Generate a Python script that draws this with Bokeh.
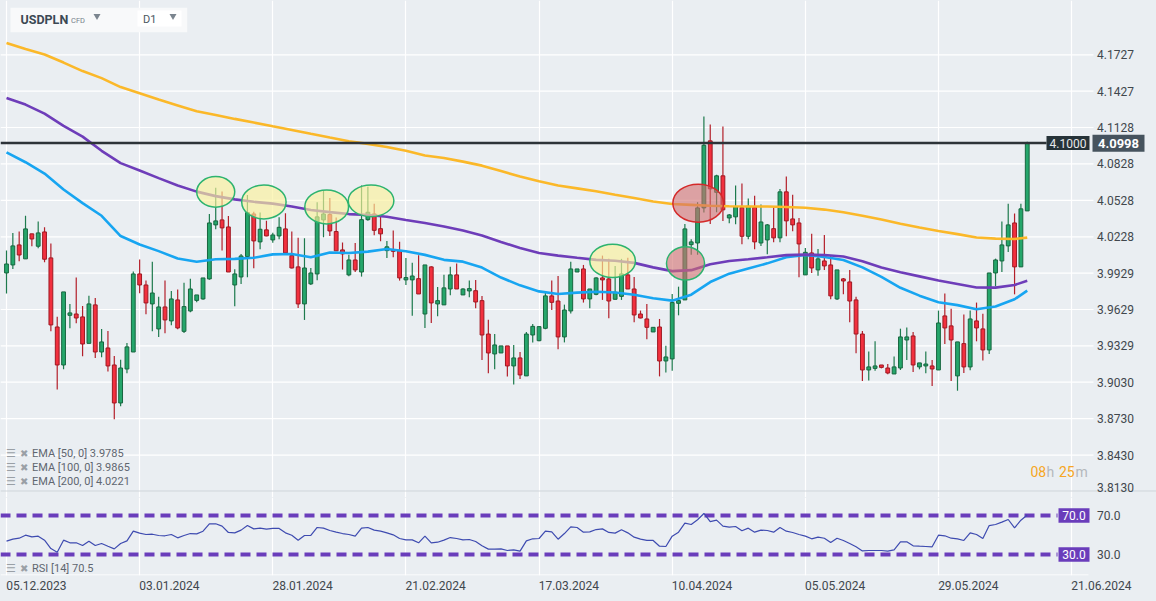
from bokeh.plotting import figure
from bokeh.layouts import column
from bokeh.models import (Range1d, LinearAxis, FixedTicker, Grid,
                          ColumnDataSource, GlobalInlineStyleSheet)
from bokeh.core.properties import value
from bokeh.embed import file_html
from bokeh.resources import INLINE

# ---------------- data ----------------
SYMBOL = "USDPLN"
INSTRUMENT = "CFD"
TIMEFRAME = "D1"

OPEN = [3.9930, 3.9996, 4.0161, 4.0046, 4.0252, 4.0150, 4.0268, 4.0054, 3.9485, 3.9172,
        3.9581, 3.9592, 3.9568, 3.9350, 3.9667, 3.9279, 3.9312, 3.9172, 3.8859, 3.9139,
        3.9279, 3.9922, 3.9831, 3.9675, 3.9469, 3.9650, 3.9535, 3.9708, 3.9449, 3.9617,
        3.9704, 3.9716, 3.9881, 4.0326, 4.0367, 4.0309, 3.9831, 3.9897, 4.0065, 4.0416,
        4.0186, 4.0285, 4.0202, 4.0235, 4.0293, 4.0073, 3.9980, 3.9675, 3.9840, 3.9922,
        4.0367, 4.0411, 4.0271, 4.0120, 3.9914, 4.0037, 3.9938, 4.0369, 4.0416, 4.0295,
        4.0114, 4.0120, 4.0114, 3.9873, 3.9873, 3.9883, 3.9592, 3.9980, 3.9675, 3.9667,
        3.9798, 3.9914, 3.9749, 3.9782, 3.9784, 3.9702, 3.9427, 3.9263, 3.9271, 3.9329,
        3.9164, 3.9230, 3.9082, 3.9419, 3.9372, 3.9474, 3.9741, 3.9699, 3.9403, 3.9617,
        3.9938, 3.9963, 3.9716, 3.9754, 3.9889, 3.9881, 3.9713, 3.9737, 3.9914, 3.9798,
        3.9592, 3.9551, 3.9444, 3.9485, 3.9205, 3.9222, 3.9680, 3.9708, 4.0163, 4.0177,
        4.0466, 4.1018, 4.0594, 4.0730, 4.0383, 4.0392, 4.0468, 4.0232, 4.0471, 4.0177,
        4.0202, 4.0295, 4.0219, 4.0598, 4.0375, 4.0342, 3.9914, 4.0095, 3.9955, 4.0029,
        3.9996, 3.9716, 3.9881, 3.9856, 3.9708, 3.9427, 3.9131, 3.9144, 3.9172, 3.9147,
        3.9098, 3.9147, 3.9378, 3.9411, 3.9156, 3.9164, 3.9164, 3.9131, 3.9576, 3.9494,
        3.9082, 3.9348, 3.9156, 3.9535, 3.9469, 3.9296, 3.9930, 4.0029, 4.0153, 4.0342,
        3.9980, 4.0441]
HIGH = [4.0114, 4.0260, 4.0271, 4.0402, 4.0252, 4.0353, 4.0306, 4.0172, 3.9570, 3.9774,
        3.9675, 3.9892, 3.9658, 3.9743, 3.9724, 3.9469, 3.9452, 3.9246, 3.9216, 3.9353,
        3.9941, 4.0040, 3.9867, 4.0023, 3.9733, 3.9867, 3.9782, 3.9793, 3.9850, 3.9883,
        3.9749, 3.9889, 4.0416, 4.0631, 4.0600, 4.0400, 3.9960, 4.0087, 4.0573, 4.0435,
        4.0427, 4.0361, 4.0262, 4.0388, 4.0421, 4.0271, 4.0219, 4.0215, 3.9971, 4.0512,
        4.0608, 4.0548, 4.0386, 4.0180, 4.0081, 4.0177, 4.0650, 4.0641, 4.0501, 4.0397,
        4.0194, 4.0279, 4.0188, 4.0054, 4.0015, 4.0075, 3.9996, 3.9985, 3.9815, 3.9916,
        3.9982, 4.0007, 3.9803, 3.9867, 3.9873, 3.9741, 3.9545, 3.9427, 3.9329, 3.9329,
        3.9337, 3.9279, 3.9444, 3.9510, 3.9488, 3.9771, 3.9867, 3.9905, 3.9669, 4.0023,
        3.9963, 3.9996, 3.9798, 3.9894, 4.0073, 4.0046, 3.9988, 4.0046, 4.0056, 3.9897,
        3.9620, 3.9675, 3.9482, 3.9551, 3.9331, 3.9757, 3.9817, 4.0334, 4.0207, 4.0512,
        4.1218, 4.1152, 4.0738, 4.1136, 4.0416, 4.0650, 4.0666, 4.0543, 4.0567, 4.0493,
        4.0334, 4.0471, 4.0622, 4.0724, 4.0575, 4.0383, 4.0136, 4.0252, 4.0128, 4.0243,
        4.0067, 3.9955, 3.9889, 3.9955, 3.9735, 3.9452, 3.9282, 3.9367, 3.9172, 3.9180,
        3.9241, 3.9471, 3.9480, 3.9444, 3.9189, 3.9282, 3.9213, 3.9620, 3.9760, 3.9636,
        3.9362, 3.9587, 3.9620, 3.9686, 3.9595, 3.9930, 4.0048, 4.0353, 4.0501, 4.0419,
        4.0501, 4.1010]
LOW = [3.9760, 3.9963, 4.0026, 4.0046, 4.0150, 4.0133, 4.0018, 3.9449, 3.8971, 3.9136,
       3.9474, 3.9515, 3.9243, 3.9350, 3.9230, 3.9235, 3.9119, 3.8724, 3.8831, 3.9103,
       3.9279, 3.9762, 3.9589, 3.9449, 3.9403, 3.9433, 3.9499, 3.9466, 3.9436, 3.9606,
       3.9688, 3.9710, 3.9875, 4.0290, 4.0114, 3.9938, 3.9655, 3.9840, 3.9894, 3.9968,
       4.0125, 4.0232, 4.0178, 4.0207, 4.0089, 3.9966, 3.9642, 3.9543, 3.9831, 3.9869,
       4.0224, 4.0235, 4.0112, 3.9958, 3.9902, 3.9938, 3.9900, 4.0361, 4.0240, 4.0191,
       4.0054, 4.0059, 3.9867, 3.9831, 3.9578, 3.9757, 3.9477, 3.9518, 3.9573, 3.9667,
       3.9746, 3.9798, 3.9749, 3.9729, 3.9639, 3.9213, 3.9103, 3.9136, 3.9271, 3.9078,
       3.9012, 3.9057, 3.9082, 3.9358, 3.9367, 3.9466, 3.9625, 3.9301, 3.9358, 3.9597,
       3.9938, 3.9686, 3.9639, 3.9746, 3.9708, 3.9556, 3.9713, 3.9708, 3.9798, 3.9523,
       3.9556, 3.9383, 3.9444, 3.9078, 3.9111, 3.9125, 3.9581, 3.9708, 4.0081, 4.0081,
       4.0427, 4.0334, 4.0430, 4.0359, 4.0339, 4.0331, 4.0166, 4.0207, 4.0125, 4.0153,
       4.0084, 4.0182, 4.0182, 4.0232, 4.0273, 3.9894, 3.9914, 3.9930, 3.9906, 3.9955,
       3.9713, 3.9708, 3.9754, 3.9523, 3.9268, 3.9040, 3.9045, 3.9125, 3.9144, 3.9095,
       3.9098, 3.9131, 3.9213, 3.9115, 3.9136, 3.9103, 3.8999, 3.9131, 3.9345, 3.9040,
       3.8960, 3.9106, 3.9128, 3.9367, 3.9208, 3.9263, 3.9820, 3.9938, 4.0103, 3.9754,
       3.9980, 4.0441]
CLOSE = [4.0004, 4.0153, 4.0078, 4.0293, 4.0210, 4.0260, 4.0043, 3.9502, 3.9172, 3.9774,
         3.9601, 3.9559, 3.9345, 3.9675, 3.9279, 3.9362, 3.9164, 3.8859, 3.9147, 3.9321,
         3.9922, 3.9831, 3.9683, 3.9765, 3.9650, 3.9543, 3.9716, 3.9477, 3.9653, 3.9798,
         3.9749, 3.9889, 4.0342, 4.0359, 4.0301, 3.9938, 3.9922, 4.0070, 4.0427, 4.0194,
         4.0290, 4.0235, 4.0243, 4.0306, 4.0095, 3.9971, 3.9675, 3.9971, 3.9930, 4.0392,
         4.0416, 4.0276, 4.0112, 4.0087, 4.0037, 3.9955, 4.0369, 4.0430, 4.0281, 4.0252,
         4.0145, 4.0108, 3.9889, 3.9892, 3.9905, 3.9757, 3.9996, 3.9683, 3.9702, 3.9807,
         3.9914, 3.9798, 3.9798, 3.9801, 3.9691, 3.9419, 3.9271, 3.9337, 3.9329, 3.9164,
         3.9230, 3.9090, 3.9427, 3.9490, 3.9488, 3.9741, 3.9688, 3.9403, 3.9625, 3.9963,
         3.9963, 3.9716, 3.9798, 3.9889, 3.9873, 3.9699, 3.9771, 3.9922, 3.9798, 3.9584,
         3.9559, 3.9482, 3.9482, 3.9205, 3.9238, 3.9686, 3.9702, 4.0293, 4.0186, 4.0466,
         4.0982, 4.0623, 4.0730, 4.0450, 4.0408, 4.0477, 4.0232, 4.0479, 4.0186, 4.0350,
         4.0326, 4.0219, 4.0598, 4.0359, 4.0326, 4.0169, 4.0100, 3.9971, 4.0046, 3.9988,
         3.9741, 3.9955, 3.9864, 3.9699, 3.9427, 3.9131, 3.9156, 3.9164, 3.9152, 3.9106,
         3.9156, 3.9403, 3.9403, 3.9172, 3.9189, 3.9180, 3.9139, 3.9518, 3.9477, 3.9378,
         3.9362, 3.9156, 3.9551, 3.9477, 3.9296, 3.9930, 4.0037, 4.0161, 4.0326, 3.9980,
         4.0458, 4.0998]

RSI = [43.7, 45.7, 46.7, 49.8, 48.1, 48.8, 44.7, 36.1, 32.4, 44.7,
       42.0, 42.0, 39.2, 43.7, 39.2, 41.3, 38.5, 35.8, 41.3, 44.0,
       53.9, 51.9, 50.5, 50.8, 49.5, 49.2, 50.5, 47.1, 49.5, 51.5,
       51.2, 53.9, 61.5, 61.5, 59.1, 52.6, 52.2, 55.0, 59.7, 56.3,
       57.0, 56.0, 56.7, 56.7, 52.2, 49.8, 44.7, 49.5, 49.5, 57.7,
       57.0, 54.6, 52.9, 51.5, 50.5, 48.8, 57.0, 57.7, 55.0, 53.9,
       52.2, 50.2, 46.4, 45.0, 45.0, 42.0, 48.8, 42.0, 42.6, 44.7,
       47.4, 46.4, 45.0, 45.4, 43.3, 38.9, 35.5, 35.5, 35.8, 34.1,
       34.8, 33.4, 44.0, 46.1, 46.4, 53.9, 53.2, 45.7, 51.5, 58.4,
       57.7, 52.9, 53.2, 55.6, 56.3, 52.6, 51.9, 55.3, 52.2, 47.8,
       45.7, 44.4, 44.4, 38.5, 38.2, 48.8, 52.9, 62.1, 60.8, 65.6,
       72.1, 63.8, 65.2, 59.1, 58.0, 58.7, 54.3, 57.0, 52.9, 55.0,
       54.6, 52.9, 57.7, 53.9, 52.6, 50.5, 48.8, 46.1, 47.8, 46.7,
       42.3, 46.7, 44.4, 41.3, 37.9, 33.7, 34.1, 34.1, 34.1, 33.4,
       34.8, 43.0, 43.0, 38.9, 38.5, 38.2, 37.9, 49.8, 49.2, 46.7,
       46.1, 44.4, 52.2, 50.5, 46.4, 59.7, 60.8, 63.2, 65.9, 57.3,
       65.2, 70.5]

EMA_IDX = [0, 3, 6, 9, 12, 15, 18, 21, 24, 27, 30, 33, 36, 39, 42, 45, 48, 51, 54, 57,
           60, 63, 66, 69, 72, 75, 78, 81, 84, 87, 90, 93, 96, 99, 102, 105, 108, 111,
           114, 117, 120, 123, 126, 129, 132, 135, 138, 141, 144, 147, 150, 153, 156,
           159, 161]
EMA50 = [4.0924, 4.0842, 4.0749, 4.0617, 4.0505, 4.0401, 4.0234, 4.0164, 4.0110, 4.0049,
         4.0023, 4.0043, 4.0046, 4.0055, 4.0083, 4.0086, 4.0059, 4.0098, 4.0094, 4.0106,
         4.0128, 4.0109, 4.0079, 4.0038, 4.0023, 3.9974, 3.9892, 3.9828, 3.9778, 3.9757,
         3.9768, 3.9775, 3.9769, 3.9751, 3.9722, 3.9702, 3.9751, 3.9855, 3.9924, 3.9967,
         4.0009, 4.0059, 4.0078, 4.0061, 4.0036, 3.9976, 3.9897, 3.9808, 3.9743, 3.9689,
         3.9665, 3.9631, 3.9653, 3.9713, 3.9785]
EMA100 = [4.1372, 4.1317, 4.1243, 4.1142, 4.1053, 4.0936, 4.0835, 4.0774, 4.0711, 4.0651,
          4.0600, 4.0563, 4.0536, 4.0516, 4.0501, 4.0477, 4.0449, 4.0431, 4.0415, 4.0407,
          4.0393, 4.0366, 4.0341, 4.0313, 4.0279, 4.0238, 4.0185, 4.0135, 4.0094, 4.0073,
          4.0055, 4.0038, 4.0030, 4.0013, 3.9976, 3.9945, 3.9953, 4.0001, 4.0028, 4.0043,
          4.0059, 4.0077, 4.0081, 4.0078, 4.0066, 4.0026, 3.9975, 3.9936, 3.9902, 3.9868,
          3.9839, 3.9810, 3.9809, 3.9831, 3.9865]
EMA200 = [4.1825, 4.1774, 4.1729, 4.1663, 4.1593, 4.1535, 4.1461, 4.1410, 4.1358, 4.1310,
          4.1262, 4.1231, 4.1199, 4.1169, 4.1138, 4.1108, 4.1076, 4.1045, 4.1015, 4.0993,
          4.0968, 4.0937, 4.0897, 4.0877, 4.0847, 4.0814, 4.0769, 4.0724, 4.0685, 4.0650,
          4.0627, 4.0603, 4.0574, 4.0547, 4.0519, 4.0498, 4.0491, 4.0483, 4.0480, 4.0478,
          4.0477, 4.0473, 4.0467, 4.0452, 4.0430, 4.0402, 4.0371, 4.0336, 4.0304, 4.0276,
          4.0250, 4.0222, 4.0213, 4.0210, 4.0221]
EMA_NAMES = ["EMA [50, 0]", "EMA [100, 0]", "EMA [200, 0]"]
EMA_LAST = [3.9785, 3.9865, 4.0221]
RSI_NAME = "RSI [14]"
RSI_LAST = 70.5
RSI_LEVELS = [70.0, 30.0]

PRICE_LABELS = ["4.1727", "4.1427", "4.1128", "4.0828", "4.0528", "4.0228", "3.9929",
                "3.9629", "3.9329", "3.9030", "3.8730", "3.8430", "3.8130"]
DATE_LABELS = ["05.12.2023", "03.01.2024", "28.01.2024", "21.02.2024", "17.03.2024",
               "10.04.2024", "05.05.2024", "29.05.2024", "21.06.2024"]
DATE_POS = [0, 21, 42, 63, 84, 105, 126, 147, 168]   # candle index of each date gridline

LEVEL = 4.1000          # horizontal resistance line
LAST_PRICE = 4.0998
COUNTDOWN = ["08", "h", "25", "m"]

# highlighted zones: candle index, price, width (candles), height (price), kind
MARK_X = [33.0, 40.6, 50.5, 57.5, 95.6, 109.1, 107.1]
MARK_Y = [4.0598, 4.0515, 4.0474, 4.0524, 4.0029, 4.0505, 4.0009]
MARK_W = [6.0, 7.0, 6.9, 7.2, 7.2, 8.0, 6.0]
MARK_H = [0.0252, 0.0280, 0.0280, 0.0260, 0.0275, 0.0313, 0.0275]
MARK_KIND = ["y", "y", "y", "y", "y", "r", "g"]

# ---------------- styling / page geometry ----------------
BG = "#eaeef2"
FONT = "Roboto"
AXIS_TXT = "#41474d"
W = 1156
PANEL_EDGE = 491           # page y of the line between the two panels
MAIN_H = 497               # main canvas reaches a little below the panel line
RSI_H = 601 - MAIN_H - 1
RSI_BOTTOM = 575           # page y where the RSI panel ends
PLOT_RIGHT = 1093          # page x where the price area ends

CAND_X0, CAND_DX = 6.0, 6.34        # page x of first candle, candle spacing (px)
Y_TOP = 4.21743                     # price at page y = 0
PRICE_PER_PX = (4.21743 - 3.81298) / 491
RSI_70_Y, RSI_PER_PX = 515.0, 40.0 / 39.0


def px_x(x):
    return (x - CAND_X0) / CAND_DX


def px_y(y):
    return Y_TOP - y * PRICE_PER_PX


def rsi_y(y):
    return 70.0 - (y - RSI_70_Y) * RSI_PER_PX


x_range = Range1d(px_x(0), px_x(W))
XL, XR = px_x(0), px_x(PLOT_RIGHT)


def txt(fig, x, y, s, size, color, font=FONT, style="normal", align="left",
        baseline="middle"):
    fig.text(x=[x], y=[y], text=[s], text_font=value(font), text_font_size=size,
             text_font_style=style, text_color=color, text_align=align,
             text_baseline=baseline)


def strip_grids(fig):
    fig.center = [c for c in fig.center if not isinstance(c, Grid)]


# ================= main price panel =================
p = figure(width=W, height=MAIN_H, x_range=x_range,
           y_range=Range1d(px_y(MAIN_H), px_y(0)),
           output_backend="svg", toolbar_location=None,
           x_axis_location=None, y_axis_location=None,
           min_border_left=0, min_border_right=0, min_border_top=0, min_border_bottom=0,
           background_fill_color=BG, border_fill_color=BG, outline_line_color=None)
strip_grids(p)
p.add_layout(Grid(dimension=0, ticker=FixedTicker(ticks=DATE_POS),
                  grid_line_color="white", grid_line_width=1.2))

grid_prices = [float(s) for s in PRICE_LABELS[:-1]]
p.segment(x0=XL, x1=XR, y0=grid_prices, y1=grid_prices, line_color="white", line_width=1.2)
# panel separator
p.segment(x0=XL, x1=px_x(W), y0=px_y(PANEL_EDGE - 0.5), y1=px_y(PANEL_EDGE - 0.5),
          line_color="#cfd5da", line_width=1)

# price scale labels (the lowest one sits just above the panel edge)
p.text(x=px_x(1096.5), y=grid_prices, text=PRICE_LABELS[:-1], text_font=value(FONT),
       text_font_size="12px", text_color=AXIS_TXT, text_baseline="middle", text_align="left")
txt(p, px_x(1096.5), px_y(486.7), PRICE_LABELS[-1], "12px", AXIS_TXT)

# candles
n = len(OPEN)
xs = list(range(n))
up = [c >= o for o, c in zip(OPEN, CLOSE)]
src = ColumnDataSource(dict(
    x=xs, lo=LOW, hi=HIGH,
    top=[max(o, c) for o, c in zip(OPEN, CLOSE)],
    bot=[min(o, c) for o, c in zip(OPEN, CLOSE)],
    fill=["#25a66b" if u else "#f2303e" for u in up],
    edge=["#17663f" if u else "#9e1822" for u in up],
    wick=["#1d7a4d" if u else "#b31f2a" for u in up],
))
p.segment(x0="x", y0="lo", x1="x", y1="hi", line_color="wick", line_width=1.2, source=src)
p.vbar(x="x", width=0.6, top="top", bottom="bot", fill_color="fill", line_color="edge",
       line_width=1, source=src)

# EMAs
p.line(EMA_IDX, EMA50, line_color="#17a5f1", line_width=2.6)
p.line(EMA_IDX, EMA100, line_color="#6e3db9", line_width=2.6)
p.line(EMA_IDX, EMA200, line_color="#fbb829", line_width=2.6)

# highlighted zones
fills = {"y": "#fbf19a", "r": "#d26e6e", "g": "#d26e6e"}
alphas = {"y": 0.65, "r": 0.6, "g": 0.6}
edges = {"y": "#2db36f", "r": "#d42a2a", "g": "#2db36f"}
p.ellipse(x=MARK_X, y=MARK_Y, width=MARK_W, height=MARK_H,
          fill_color=[fills[k] for k in MARK_KIND], fill_alpha=[alphas[k] for k in MARK_KIND],
          line_color=[edges[k] for k in MARK_KIND], line_width=1.5)

# resistance level and price tags
p.segment(x0=XL, x1=px_x(1046), y0=LEVEL, y1=LEVEL, line_color="#2d3338", line_width=2.5)
p.rect(x=[px_x(1067.5)], y=[LEVEL], width=43, height=14, width_units="screen",
       height_units="screen", fill_color="#263238", line_color=None)
txt(p, px_x(1067.5), LEVEL, "%.4f" % LEVEL, "12px", "#e6e8ea", align="center")
p.rect(x=[px_x(1118)], y=[LAST_PRICE], width=52, height=17, width_units="screen",
       height_units="screen", fill_color="#46535e", line_color=None)
txt(p, px_x(1118), LAST_PRICE, "%.4f" % LAST_PRICE, "13px", "white", style="bold",
    align="center")

# header box
p.quad(left=[px_x(10)], right=[px_x(186.7)], top=[px_y(7.3)], bottom=[px_y(31.7)],
       fill_color="#f8f9fa", line_color=None)
p.quad(left=[px_x(137)], right=[px_x(181)], top=[px_y(10)], bottom=[px_y(26)],
       fill_color="#ffffff", line_color=None)
txt(p, px_x(20), px_y(19), SYMBOL, "12.5px", "#3c4954", style="bold")
txt(p, px_x(70.5), px_y(19.5), INSTRUMENT, "7.5px", "#76808a")
txt(p, px_x(142.5), px_y(18.5), TIMEFRAME, "11px", "#4b5661")
p.scatter(x=[px_x(96.5), px_x(172.5)], y=[px_y(15.5), px_y(15.5)], marker="inverted_triangle",
          size=7, fill_color="#7b858f", line_color=None)

# indicator legend
for k, (name, val) in enumerate(zip(EMA_NAMES, EMA_LAST)):
    yy = px_y(452.7 + 14 * k)
    txt(p, px_x(5.5), yy, "\u2630", "11px", "#9aa0a6", font="DejaVu Sans")
    txt(p, px_x(19.5), yy, "\u2716", "10px", "#9aa0a6", font="DejaVu Sans")
    txt(p, px_x(31.5), yy, "%s %.4f" % (name, val), "11px", "#5f6670")

# candle countdown
for t, xx, cc in zip(COUNTDOWN, [1030, 1046, 1058.5, 1075],
                     ["#f6a623", "#b4b8bc", "#f6a623", "#b4b8bc"]):
    txt(p, px_x(xx), px_y(471), t, "14px", cc)

# ================= RSI panel =================
frame_h = RSI_BOTTOM - MAIN_H
r = figure(width=W, height=RSI_H, x_range=x_range,
           y_range=Range1d(rsi_y(RSI_BOTTOM), rsi_y(MAIN_H)),
           output_backend="svg", toolbar_location=None,
           x_axis_location=None, y_axis_location=None,
           min_border_left=0, min_border_right=0, min_border_top=0,
           min_border_bottom=RSI_H - frame_h,
           background_fill_color=BG, border_fill_color=BG, outline_line_color=None)
strip_grids(r)
r.add_layout(Grid(dimension=0, ticker=FixedTicker(ticks=DATE_POS),
                  grid_line_color="white", grid_line_width=1.2))

date_ticks = [d + 4.7 for d in DATE_POS]   # labels start at their gridline
xa = LinearAxis(ticker=FixedTicker(ticks=date_ticks),
                major_label_overrides={t: s for t, s in zip(date_ticks, DATE_LABELS)},
                axis_line_color=None, major_tick_line_color=None, minor_tick_line_color=None,
                major_tick_out=0, major_tick_in=0, major_label_standoff=5,
                major_label_text_font=FONT, major_label_text_font_size="12px",
                major_label_text_color=AXIS_TXT)
r.add_layout(xa, "below")

r.segment(x0=XL, x1=px_x(1088), y0=rsi_y(RSI_BOTTOM - 0.5), y1=rsi_y(RSI_BOTTOM - 0.5),
          line_color="white", line_width=1.2)
r.segment(x0=XL, x1=px_x(1057), y0=RSI_LEVELS, y1=RSI_LEVELS, line_color="#6a3dbb",
          line_width=4, line_dash="10 6")
r.line(xs, RSI, line_color="#3e4bb0", line_width=1.2)
r.rect(x=px_x(1073.5), y=RSI_LEVELS, width=31, height=14.5, width_units="screen",
       height_units="screen", fill_color="#6a3dbb", line_color=None)
r.text(x=px_x(1073.5), y=RSI_LEVELS, text=["%.1f" % v for v in RSI_LEVELS],
       text_font=value(FONT), text_font_size="12px", text_color="white",
       text_align="center", text_baseline="middle")
r.text(x=px_x(1096.5), y=RSI_LEVELS, text=["%.1f" % v for v in RSI_LEVELS],
       text_font=value(FONT), text_font_size="12px", text_color=AXIS_TXT,
       text_align="left", text_baseline="middle")

ry = rsi_y(567.7)
txt(r, px_x(5.5), ry, "\u2630", "11px", "#9aa0a6", font="DejaVu Sans")
txt(r, px_x(19.5), ry, "\u2716", "10px", "#9aa0a6", font="DejaVu Sans")
txt(r, px_x(31.5), ry, "%s %.1f" % (RSI_NAME, RSI_LAST), "11px", "#5f6670")

layout = column(p, r, spacing=0)
layout.stylesheets = [GlobalInlineStyleSheet(
    css="html, body { margin: 0; padding: 0; background: #eaeef2; }")]

open("out.html", "w").write(file_html(layout, INLINE))
